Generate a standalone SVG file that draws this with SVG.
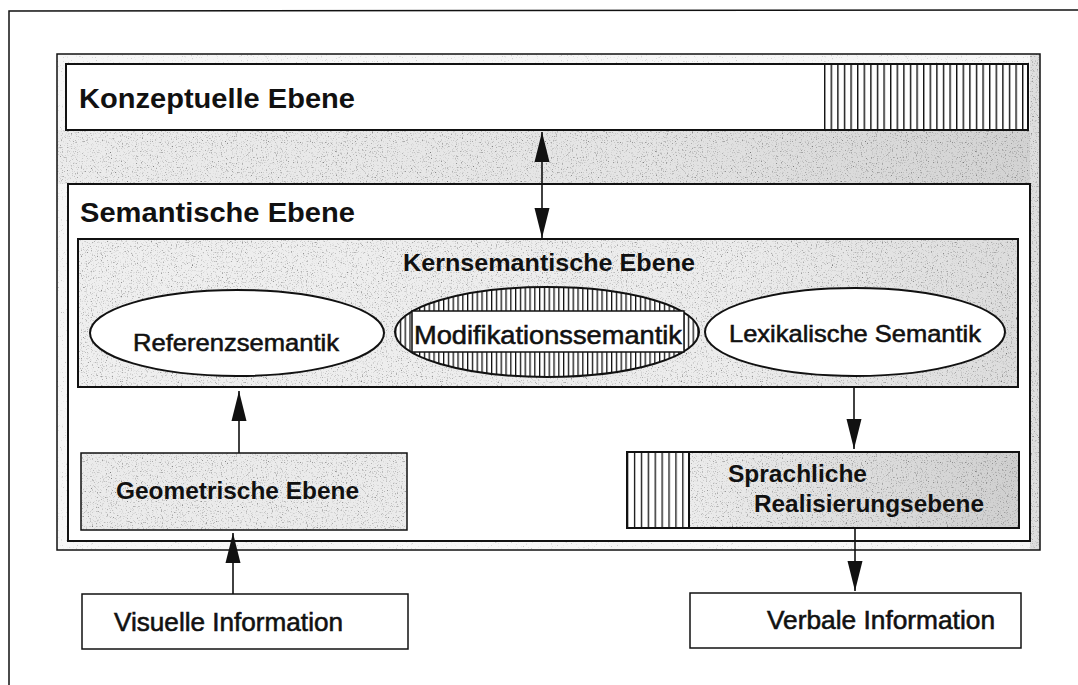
<svg xmlns="http://www.w3.org/2000/svg" width="1078" height="685" viewBox="0 0 1078 685">
<defs>
  <style>
    .t { font-family: "Liberation Sans", Arial, Helvetica, sans-serif; fill: #111; }
    .b { font-weight: bold; }
    .m { stroke: #111; stroke-width: 0.55; }
    .box { fill: none; stroke: #111; stroke-width: 2; }
    .wfill { fill: #fff; stroke: #111; stroke-width: 2; }
    .thin { fill: none; stroke: #111; stroke-width: 1.5; }
    .wbox { fill: #fff; stroke: #111; stroke-width: 1.5; }
    .conn { stroke: #111; stroke-width: 1.6; fill: none; }
  </style>
  <filter id="speckle" x="0" y="0" width="1" height="1">
    <feTurbulence type="fractalNoise" baseFrequency="0.8" numOctaves="2" seed="4" result="t"/>
    <feColorMatrix in="t" type="matrix" values="0 0 0 0 0  0 0 0 0 0  0 0 0 0 0  2.4 0 0 0 -1.35" result="d"/>
    <feComposite in="d" in2="SourceAlpha" operator="in" result="dc"/>
    <feMerge><feMergeNode in="SourceGraphic"/><feMergeNode in="dc"/></feMerge>
  </filter>
  <filter id="speckleL" x="0" y="0" width="1" height="1">
    <feTurbulence type="fractalNoise" baseFrequency="0.8" numOctaves="2" seed="9" result="t"/>
    <feColorMatrix in="t" type="matrix" values="0 0 0 0 0  0 0 0 0 0  0 0 0 0 0  2 0 0 0 -1.3" result="d"/>
    <feComposite in="d" in2="SourceAlpha" operator="in" result="dc"/>
    <feMerge><feMergeNode in="SourceGraphic"/><feMergeNode in="dc"/></feMerge>
  </filter>
  <linearGradient id="gSpr" x1="0" y1="0" x2="1" y2="0">
    <stop offset="0" stop-color="#ececec"/>
    <stop offset="1" stop-color="#cfcfcf"/>
  </linearGradient>
  <linearGradient id="gBand" x1="0" y1="0" x2="1" y2="0">
    <stop offset="0" stop-color="#ececec"/>
    <stop offset="0.6" stop-color="#e4e4e4"/>
    <stop offset="1" stop-color="#d2d2d2"/>
  </linearGradient>
  <linearGradient id="gKern" x1="0" y1="0" x2="1" y2="0">
    <stop offset="0" stop-color="#efefef"/>
    <stop offset="0.7" stop-color="#ececec"/>
    <stop offset="1" stop-color="#dcdcdc"/>
  </linearGradient>
  <pattern id="hatchK" patternUnits="userSpaceOnUse" x="824" y="0" width="6.6" height="10">
    <rect x="0" y="0" width="6.6" height="10" fill="#fff"/>
    <rect x="0" y="0" width="1.4" height="10" fill="#111"/>
  </pattern>
  <pattern id="hatchM" patternUnits="userSpaceOnUse" x="395" y="0" width="4.8" height="10">
    <rect x="0" y="0" width="4.8" height="10" fill="#fff"/>
    <rect x="0" y="0" width="1.3" height="10" fill="#111"/>
  </pattern>
  <pattern id="hatchS" patternUnits="userSpaceOnUse" x="627" y="0" width="6.9" height="10">
    <rect x="0" y="0" width="6.9" height="10" fill="#fff"/>
    <rect x="0" y="0" width="1.3" height="10" fill="#111"/>
  </pattern>
  <marker id="ah" markerUnits="userSpaceOnUse" markerWidth="30" markerHeight="16" refX="30" refY="8" orient="auto-start-reverse">
    <path d="M0,0.5 L30,8 L0,15.5 z" fill="#111"/>
  </marker>
</defs>

<rect x="0" y="0" width="1078" height="685" fill="#fff"/>

<g id="frame">
  <path d="M9,685 L9,11 L1078,10" class="thin"/>
</g>

<g id="outer-container">
  <rect x="57" y="54" width="983" height="496" fill="#f6f6f6" filter="url(#speckleL)"/>
  <rect x="57" y="130" width="983" height="54" fill="url(#gBand)" filter="url(#speckle)"/>
  <rect x="1030" y="54" width="10" height="496" fill="#dedede" filter="url(#speckle)"/>
  <rect x="57" y="54" width="983" height="496" class="thin"/>
</g>

<g id="konzeptuelle-ebene">
  <rect x="66" y="64" width="962" height="66" fill="#fff"/>
  <rect x="824" y="64" width="204" height="66" fill="url(#hatchK)"/>
  <rect x="66" y="64" width="962" height="66" class="box"/>
  <text class="t b" x="79" y="108" font-size="28" textLength="276" lengthAdjust="spacingAndGlyphs">Konzeptuelle Ebene</text>
</g>

<g id="semantische-ebene">
  <rect x="68" y="184" width="962" height="357" class="wfill"/>
  <text class="t b" x="80" y="222" font-size="28" textLength="275" lengthAdjust="spacingAndGlyphs">Semantische Ebene</text>
</g>

<g id="kernsemantische-ebene">
  <rect x="78" y="239" width="940" height="148" fill="url(#gKern)" filter="url(#speckle)"/>
  <rect x="78" y="239" width="940" height="148" class="box"/>
  <text class="t b" x="403" y="271" font-size="24" textLength="292" lengthAdjust="spacingAndGlyphs">Kernsemantische Ebene</text>
</g>

<g id="referenzsemantik">
  <ellipse cx="237" cy="333" rx="147" ry="43" class="wfill"/>
  <text class="t m" x="133" y="351" font-size="24" textLength="206" lengthAdjust="spacingAndGlyphs">Referenzsemantik</text>
</g>

<g id="modifikationssemantik">
  <ellipse cx="547" cy="332" rx="152" ry="45" fill="url(#hatchM)" stroke="#111" stroke-width="2"/>
  <rect x="412" y="311" width="272" height="41" class="wbox"/>
  <text class="t m" x="414" y="344" font-size="26" textLength="268" lengthAdjust="spacingAndGlyphs">Modifikationssemantik</text>
</g>

<g id="lexikalische-semantik">
  <ellipse cx="855" cy="332" rx="150" ry="44" class="wfill"/>
  <text class="t m" x="729" y="342" font-size="24" textLength="252" lengthAdjust="spacingAndGlyphs">Lexikalische Semantik</text>
</g>

<g id="geometrische-ebene">
  <rect x="81" y="453" width="326" height="77" fill="#ebebeb" filter="url(#speckle)"/>
  <rect x="81" y="453" width="326" height="77" class="thin"/>
  <text class="t b" x="116" y="499" font-size="24" textLength="243" lengthAdjust="spacingAndGlyphs">Geometrische Ebene</text>
</g>

<g id="sprachliche-realisierungsebene">
  <rect x="627" y="452" width="62" height="76" fill="url(#hatchS)"/>
  <rect x="689" y="452" width="330" height="76" fill="url(#gSpr)" filter="url(#speckle)"/>
  <rect x="627" y="452" width="392" height="76" class="box"/>
  <line x1="689" y1="452" x2="689" y2="528" stroke="#111" stroke-width="2"/>
  <text class="t b" x="728" y="482" font-size="24" textLength="139" lengthAdjust="spacingAndGlyphs">Sprachliche</text>
  <text class="t b" x="754" y="512" font-size="24" textLength="230" lengthAdjust="spacingAndGlyphs">Realisierungsebene</text>
</g>

<g id="visuelle-information">
  <rect x="82" y="594" width="326" height="55" class="wbox"/>
  <text class="t m" x="114" y="631" font-size="25" textLength="229" lengthAdjust="spacingAndGlyphs">Visuelle Information</text>
</g>

<g id="verbale-information">
  <rect x="690" y="593" width="331" height="55" class="wbox"/>
  <text class="t m" x="767" y="629" font-size="25" textLength="228" lengthAdjust="spacingAndGlyphs">Verbale Information</text>
</g>

<g id="connectors">
  <line x1="542" y1="132" x2="542" y2="238" class="conn" marker-start="url(#ah)" marker-end="url(#ah)"/>
  <line x1="239" y1="453" x2="239" y2="391" class="conn" marker-end="url(#ah)"/>
  <line x1="233" y1="594" x2="233" y2="533" class="conn" marker-end="url(#ah)"/>
  <line x1="854" y1="387" x2="854" y2="449" class="conn" marker-end="url(#ah)"/>
  <line x1="855" y1="528" x2="855" y2="591" class="conn" marker-end="url(#ah)"/>
</g>
</svg>
